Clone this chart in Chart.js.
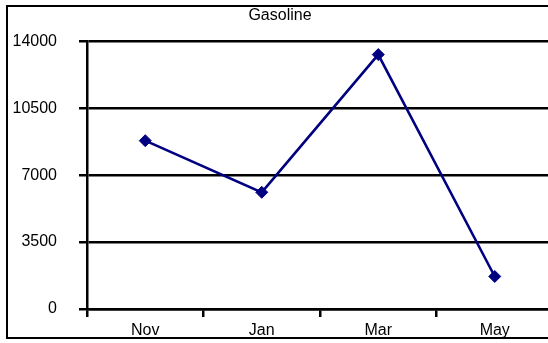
<!DOCTYPE html>
<html>
<head>
<meta charset="utf-8">
<script src="https://cdn.jsdelivr.net/npm/chart.js@4/dist/chart.umd.min.js"></script>
<style>
  html, body { margin: 0; padding: 0; overflow: hidden; background: #fff; }
  #wrap { position: relative; width: 638px; height: 343px; }
</style>
</head>
<body>
<div id="wrap"><canvas id="c"></canvas></div>
<script>
// Monthly gasoline figures
const months = ['Nov', 'Jan', 'Mar', 'May'];
const gasoline = [8800, 6100, 13300, 1700];
const yTickValues = [0, 3500, 7000, 10500, 14000];

const FONT = "'Liberation Sans', Arial, sans-serif";

// Black frame around the whole chart
const framePlugin = {
  id: 'frame',
  afterDraw(chart) {
    const ctx = chart.ctx;
    ctx.save();
    ctx.strokeStyle = '#000';
    ctx.lineWidth = 2;
    ctx.strokeRect(7, 6, chart.width - 14, 332);
    ctx.restore();
  }
};

new Chart(document.getElementById('c'), {
  type: 'line',
  data: {
    labels: months,
    datasets: [{
      label: 'Gasoline',
      data: gasoline,
      borderColor: '#000080',
      backgroundColor: '#000080',
      borderWidth: 2.6,
      pointStyle: 'rectRot',
      pointRadius: 6,
      pointBorderWidth: 1,
      pointBackgroundColor: '#000080',
      pointBorderColor: '#000080',
      tension: 0,
      fill: false
    }]
  },
  options: {
    responsive: true,
    maintainAspectRatio: false,
    animation: false,
    layout: { padding: { left: 7, right: 85, top: 0, bottom: 5 } },
    plugins: {
      legend: { display: false },
      tooltip: { enabled: false },
      title: {
        display: true,
        text: 'Gasoline',
        color: '#000',
        font: { family: FONT, size: 16, weight: 'normal' },
        padding: { top: 6, bottom: 16 }
      }
    },
    scales: {
      x: {
        type: 'category',
        offset: true,
        grid: {
          offset: true,
          drawOnChartArea: false,
          drawTicks: true,
          tickLength: 8,
          color: '#000',
          lineWidth: 2.5
        },
        border: { display: true, color: '#000', width: 2.5 },
        ticks: {
          color: '#000',
          font: { family: FONT, size: 16 },
          padding: 4,
          maxRotation: 0,
          autoSkip: false
        },
        afterFit(scale) { scale.height = 29; }
      },
      y: {
        min: yTickValues[0],
        max: yTickValues[yTickValues.length - 1],
        afterBuildTicks(scale) {
          scale.ticks = yTickValues.map(v => ({ value: v }));
        },
        grid: {
          color: '#000',
          lineWidth: 2.5,
          drawTicks: true,
          tickLength: 8
        },
        border: { display: true, color: '#000', width: 2.5 },
        ticks: {
          color: '#000',
          font: { family: FONT, size: 16 },
          padding: 22,
          callback: v => String(v)
        },
        afterFit(scale) { scale.width = 80; }
      }
    }
  },
  plugins: [framePlugin]
});
</script>
</body>
</html>
